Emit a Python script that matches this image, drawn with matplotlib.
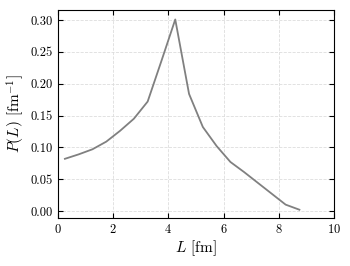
import matplotlib
matplotlib.use("Agg")
import matplotlib.pyplot as plt

L = [0.25, 0.75, 1.25, 1.75, 2.25, 2.75, 3.25, 3.75, 4.25, 4.75, 5.25,
     5.75, 6.25, 6.75, 7.25, 7.75, 8.25, 8.75]
P = [0.082, 0.089, 0.097, 0.109, 0.126, 0.145, 0.172, 0.236, 0.301, 0.184,
     0.132, 0.102, 0.077, 0.061, 0.044, 0.027, 0.010, 0.002]
xticks = [0, 2, 4, 6, 8, 10]
yticks = [0.00, 0.05, 0.10, 0.15, 0.20, 0.25, 0.30]

plt.rcParams['font.family'] = 'serif'
plt.rcParams['font.serif'] = ['cmr10', 'DejaVu Serif']
plt.rcParams['mathtext.fontset'] = 'cm'
plt.rcParams['axes.formatter.use_mathtext'] = True

fig = plt.figure(figsize=(3.5, 2.66), dpi=100)
ax = fig.add_axes([0.1657, 0.1805, 0.7883, 0.7815])
ax.plot(L, P, color='#808080', lw=1.3)
ax.set_xlim(0, 10)
ax.set_ylim(-0.011, 0.3157)
ax.set_xticks(xticks)
ax.set_yticks(yticks)
ax.set_yticklabels([f"{v:.2f}" for v in yticks])
ax.grid(True, ls='--', color='#dddddd', lw=0.6)
ax.tick_params(direction='in', top=True, right=True, labelsize=9, length=3.5, width=0.8)
ax.set_xlabel(r'$L$ [fm]', fontsize=11, labelpad=2)
ax.set_ylabel(r'$P(L)$ [fm$^{-1}$]', fontsize=11, labelpad=3)
for s in ax.spines.values():
    s.set_linewidth(0.8)
fig.savefig('out.png', dpi=100)
